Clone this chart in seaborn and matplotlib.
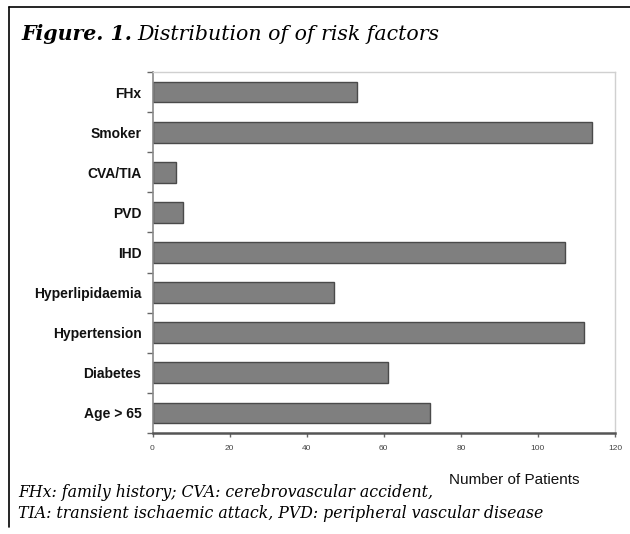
import matplotlib
matplotlib.use('Agg')
import matplotlib.pyplot as plt
from matplotlib import font_manager
from matplotlib.lines import Line2D
import seaborn as sns
import pandas as pd

# data
factors = ['FHx', 'Smoker', 'CVA/TIA', 'PVD', 'IHD', 'Hyperlipidaemia',
           'Hypertension', 'Diabetes', 'Age > 65']
patients = [53, 114, 6, 8, 107, 47, 112, 61, 72]
x_ticks = [0, 20, 40, 60, 80, 100, 120]

title_bold = 'Figure. 1.'
title_rest = 'Distribution of of risk factors'
x_label = 'Number of Patients'
footnote = ['FHx: family history; CVA: cerebrovascular accident,',
            'TIA: transient ischaemic attack, PVD: peripheral vascular disease']


def pick_font(names):
    """Return the first installed family from names"""
    for name in names:
        try:
            font_manager.findfont(name, fallback_to_default=False)
            return name
        except ValueError:
            continue
    return 'DejaVu Sans'


sns.set_style('white')
narrow = pick_font(['Liberation Sans Narrow', 'DejaVu Sans Condensed', 'Liberation Sans'])
sans = pick_font(['Liberation Sans', 'DejaVu Sans'])
serif = pick_font(['DejaVu Serif', 'Liberation Serif'])

df = pd.DataFrame({'factor': factors, 'patients': patients})

fig = plt.figure(figsize=(6.3, 5.34), dpi=100)
ax = fig.add_axes([152.5 / 630, 1 - 433 / 534, (615 - 152.5) / 630, (433 - 72) / 534])

sns.barplot(data=df, x='patients', y='factor', order=factors, orient='h',
            color='#7f7f7f', saturation=1, width=0.52,
            edgecolor='#4a4a4a', linewidth=1, ax=ax)

ax.set_xlim(0, 120)
ax.set_ylim(len(factors) - 0.5, -0.5)
ax.set_xticks(x_ticks)
ax.set_xticklabels([str(t) for t in x_ticks], fontsize=6, family=narrow, color='#444444')
ax.set_yticks(range(len(factors)))
ax.set_yticklabels(factors, fontsize=10, family=narrow, fontweight='bold', color='#111111')
ax.set_yticks([i - 0.5 for i in range(len(factors) + 1)], minor=True)
ax.tick_params(axis='y', which='major', length=0, pad=8)
ax.tick_params(axis='y', which='minor', left=True, length=4, width=1, color='#666666')
ax.tick_params(axis='x', which='major', bottom=True, length=3, width=1, color='#666666', pad=6)
ax.set_xlabel('')
ax.set_ylabel('')

for side in ['top', 'right']:
    ax.spines[side].set_color('#d0d0d0')
    ax.spines[side].set_linewidth(1)
ax.spines['left'].set_color('#8a8a8a')
ax.spines['left'].set_linewidth(1.2)
ax.spines['bottom'].set_color('#555555')
ax.spines['bottom'].set_linewidth(1.8)

fig.text(514 / 630, 1 - 480 / 534, x_label, ha='center', va='center',
         fontsize=11, family=sans, color='#111111')

# title: bold italic part then plain italic part
t1 = fig.text(21 / 630, 1 - 40 / 534, title_bold, ha='left', va='baseline',
              fontsize=14.8, family=serif, style='italic', fontweight='bold', color='black')
fig.canvas.draw()
bb = t1.get_window_extent()
fig.text((bb.x1 + 5) / 630, 1 - 40 / 534, title_rest, ha='left', va='baseline',
         fontsize=14.8, family=serif, style='italic', color='black')

fig.text(18 / 630, 1 - 497 / 534, footnote[0], ha='left', va='baseline',
         fontsize=11.3, family=serif, style='italic', color='black')
fig.text(18 / 630, 1 - 518 / 534, footnote[1], ha='left', va='baseline',
         fontsize=11.3, family=serif, style='italic', color='black')

# outer frame (top and left edges)
fig.add_artist(Line2D([9 / 630, 1.0], [1 - 7 / 534, 1 - 7 / 534], color='black', lw=1.2,
                      transform=fig.transFigure))
fig.add_artist(Line2D([9 / 630, 9 / 630], [1 - 7 / 534, 1 - 527 / 534], color='black', lw=1.2,
                      transform=fig.transFigure))

fig.savefig('out.png', dpi=100)
